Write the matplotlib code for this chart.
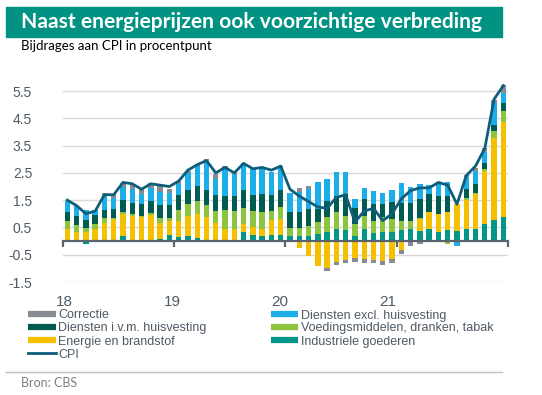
import matplotlib.pyplot as plt
import numpy as np
from matplotlib.patches import Rectangle
from matplotlib.lines import Line2D
import matplotlib.transforms as mtransforms

# maanden jan 2018 .. dec 2021
years = ["18", "19", "20", "21"]

industrie = [0, 0, -0.1, 0, 0, 0, 0.2, 0, -0.05, 0.04, 0.07, 0.23,
             0.15, 0.2, 0.1, 0.05, 0, -0.05, 0, 0.34, 0.22, 0.17, 0.22, 0.22,
             0.2, 0.17, 0.2, 0.26, 0.34, 0.44, 0.41, 0.2, 0.44, 0.3, 0.32, 0.32,
             0.41, 0.44, 0.38, 0.44, 0.32, 0.4, 0.38, 0.44, 0.46, 0.62, 0.78, 0.87]
energie = [0.44, 0.32, 0.32, 0.46, 0.68, 0.8, 0.79, 0.93, 0.87, 0.9, 0.61, 0.51,
           0.6, 0.73, 0.89, 0.82, 0.68, 0.44, 0.44, 0.28, 0.28, 0.29, 0.55, 0.59,
           -0.05, -0.24, -0.54, -0.93, -1.0, -0.76, -0.7, -0.63, -0.66, -0.7, -0.72, -0.66,
           -0.32, -0.05, 0.42, 0.63, 0.67, 0.67, 0.97, 1.07, 1.26, 1.95, 3.01, 3.5]
voeding = [0.3, 0.27, 0.16, 0.18, 0.15, 0.06, 0.09, 0.06, 0.06, 0.09, 0.15, 0.12,
           0.4, 0.43, 0.49, 0.45, 0.43, 0.7, 0.67, 0.61, 0.61, 0.61, 0.33, 0.43,
           0.27, 0.3, 0.37, 0.45, 0.56, 0.61, 0.51, 0.43, 0.49, 0.45, 0.55, 0.5,
           0.33, 0.3, 0.05, 0, 0, -0.09, 0, 0.06, 0.06, 0.09, 0.24, 0.4]
huisvesting = [0.33, 0.32, 0.3, 0.3, 0.3, 0.3, 0.44, 0.4, 0.43, 0.43, 0.49, 0.45,
               0.54, 0.52, 0.55, 0.55, 0.57, 0.52, 0.55, 0.63, 0.57, 0.65, 0.59, 0.63,
               0.6, 0.6, 0.61, 0.46, 0.57, 0.61, 0.79, 0.6, 0.61, 0.6, 0.49, 0.6,
               0.67, 0.66, 0.7, 0.65, 0.67, 0.59, 0, 0.33, 0.3, 0.22, 0.21, 0.28]
diensten = [0.4, 0.36, 0.37, 0.2, 0.55, 0.43, 0.45, 0.51, 0.37, 0.49, 0.49, 0.46,
            0.4, 0.6, 0.73, 1.01, 0.61, 0.98, 0.79, 0.99, 0.98, 0.98, 0.85, 0.87,
            0.7, 0.73, 0.73, 1.0, 0.82, 0.88, 0.82, 0.3, 0.42, 0.5, 0.4, 0.45,
            0.71, 0.6, 0.54, 0.33, 0.51, 0.49, -0.17, 0.45, 0.49, 0.39, 0.83, 0.37]
correctie = [0, 0, 0, 0, 0.07, 0.12, 0.16, 0.18, 0.18, 0.18, 0.2, 0.13,
             0.1, 0.1, 0.05, 0.12, 0.16, 0.1, 0.08, 0, 0, 0, 0, 0,
             0, 0.15, 0.12, 0, -0.09, -0.12, -0.11, -0.15, -0.15, -0.12, -0.15, -0.16,
             -0.16, -0.12, -0.1, 0, 0, 0, 0, 0.06, 0.12, 0.16, 0.1, 0.29]
cpi = [1.5, 1.3, 1.0, 1.1, 1.7, 1.7, 2.15, 2.1, 1.9, 2.1, 2.05, 2.0,
       2.2, 2.6, 2.8, 2.95, 2.5, 2.7, 2.5, 2.85, 2.65, 2.7, 2.6, 2.75,
       1.9, 1.65, 1.45, 1.25, 1.2, 1.6, 1.7, 0.7, 1.1, 1.2, 0.75, 1.0,
       1.55, 1.85, 1.95, 1.95, 2.15, 2.05, 1.35, 2.4, 2.75, 3.4, 5.2, 5.7]

series = [
    ("Industriele goederen", industrie, "#00978a"),
    ("Energie en brandstof", energie, "#f5c000"),
    ("Voedingsmiddelen, dranken, tabak", voeding, "#8cc43f"),
    ("Diensten i.v.m. huisvesting", huisvesting, "#005b50"),
    ("Diensten excl. huisvesting", diensten, "#1caee8"),
    ("Correctie", correctie, "#868c92"),
]
cpi_color = "#0e5e7b"
txt_color = "#505a64"

W, H = 542, 395
fig = plt.figure(figsize=(W / 100, H / 100), dpi=100)

# titelbalk
fig.patches.append(Rectangle((6 / W, 1 - 37 / H), 496 / W, 30 / H,
                             transform=fig.transFigure, color="#009282", zorder=0))
fig.text(21 / W, 1 - 22.5 / H, "Naast energieprijzen ook voorzichtige verbreding",
         color="white", fontsize=15.1, fontweight="bold", family="Lato",
         va="center", ha="left")
fig.text(21 / W, 1 - 46 / H, "Bijdrages aan CPI in procentpunt",
         color="black", fontsize=9.5, family="Lato", va="center", ha="left")

ax = fig.add_axes([62.7 / W, (H - 282) / H, (508 - 62.7) / W, (282 - 77.4) / H])
x = np.arange(len(cpi))
pos = np.zeros(len(cpi))
neg = np.zeros(len(cpi))
handles = {}
for name, vals, col in series:
    v = np.array(vals, dtype=float)
    bottom = np.where(v >= 0, pos, neg)
    ax.bar(x, v, 0.58, bottom=bottom, color=col, zorder=2, linewidth=0)
    pos = pos + np.where(v > 0, v, 0)
    neg = neg + np.where(v < 0, v, 0)
    handles[name] = Line2D([], [], color=col, lw=4.5, solid_capstyle="butt")

ax.plot(x, cpi, color=cpi_color, lw=2.0, zorder=3, clip_on=False)
handles["CPI"] = Line2D([], [], color=cpi_color, lw=2.0)

ax.set_xlim(-0.5, 47.5)
ax.set_ylim(-1.5, 6.0)
yt = np.arange(-1.5, 6.0, 1.0)
ax.set_yticks(yt)
ax.set_yticklabels([f"{t:.1f}" for t in yt], color=txt_color, fontsize=10,
                   family="Liberation Sans")
ax.grid(axis="y", color="#d9d9d9", lw=1.0, zorder=0)
for s in ["top", "right", "left"]:
    ax.spines[s].set_visible(False)
ax.spines["bottom"].set_position(("data", 0))
ax.spines["bottom"].set_color("#5a646e")
ax.spines["bottom"].set_linewidth(1.6)
ax.spines["bottom"].set_zorder(4)
ax.tick_params(axis="y", length=0, pad=22)
ax.set_xticks([-0.5, 11.5, 23.5, 35.5, 47.5])
ax.set_xticklabels([])
ax.tick_params(axis="x", length=4, width=1.6, color="#5a646e", direction="out")

# jaarlabels onder de grafiek
trans = mtransforms.blended_transform_factory(ax.transData, fig.transFigure)
for xp, lab in zip([-0.3, 11.3, 22.85, 34.5], years):
    ax.text(xp, 1 - 301.5 / H, lab, transform=trans, color=txt_color,
            fontsize=11, family="Liberation Sans", ha="center", va="center")

order = ["Correctie", "Diensten i.v.m. huisvesting", "Energie en brandstof", "CPI",
         "Diensten excl. huisvesting", "Voedingsmiddelen, dranken, tabak",
         "Industriele goederen"]
leg = fig.legend([handles[k] for k in order], order, ncol=2,
                 loc="upper left", bbox_to_anchor=(28 / W, 1 - 309.5 / H),
                 frameon=False, handlelength=2.2, handletextpad=0.2,
                 labelspacing=0.08, columnspacing=5.15, borderpad=0,
                 borderaxespad=0,
                 prop={"family": "Liberation Sans", "size": 9})
for t in leg.get_texts():
    t.set_color(txt_color)

fig.add_artist(Line2D([6 / W, 502 / W], [1 - 372 / H, 1 - 372 / H],
                      transform=fig.transFigure, color="#bfbfbf", lw=1))
fig.text(21 / W, 1 - 383 / H, "Bron: CBS", color="#7f7f7f", fontsize=9,
         family="Lato", va="center", ha="left")

fig.savefig("out.png", dpi=100)
